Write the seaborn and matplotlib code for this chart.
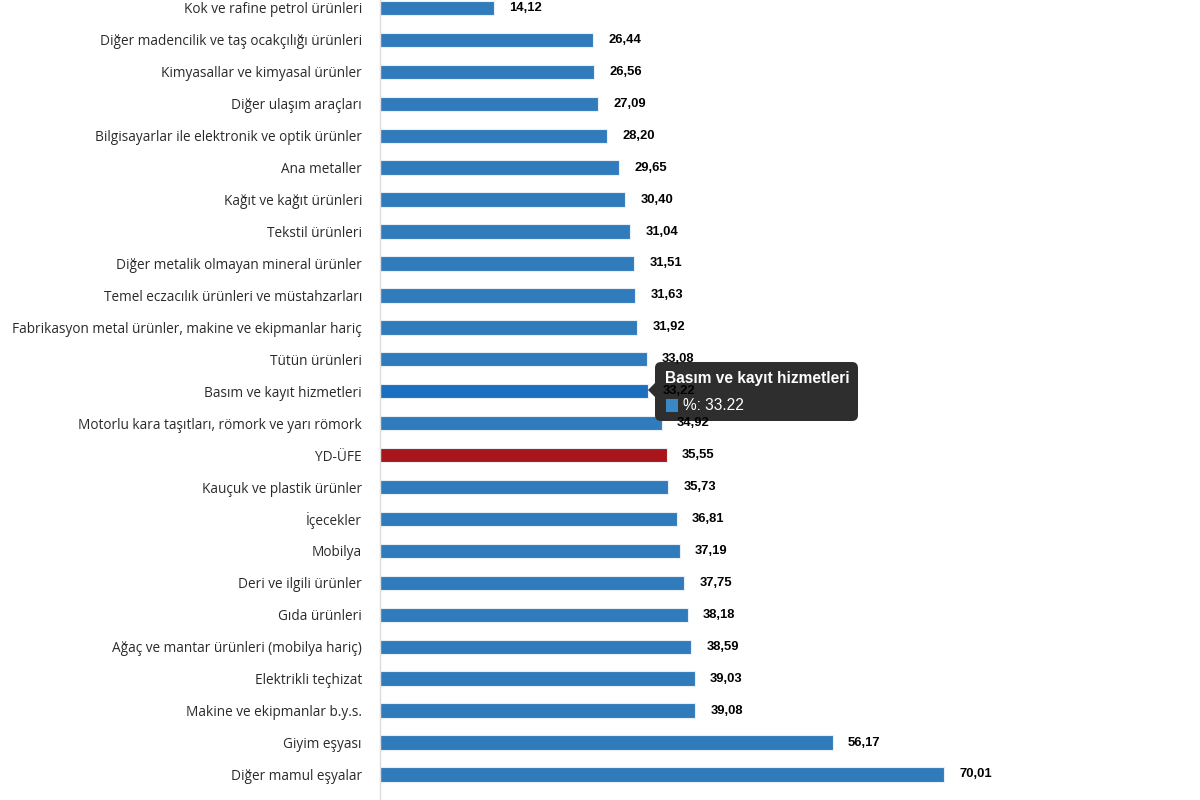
import matplotlib.pyplot as plt
import pandas as pd
import seaborn as sns
from matplotlib.patches import FancyBboxPatch, Polygon, Rectangle
from matplotlib.transforms import IdentityTransform

# data (top to bottom)
categories = [
    'Kok ve rafine petrol ürünleri',
    'Diğer madencilik ve taş ocakçılığı ürünleri',
    'Kimyasallar ve kimyasal ürünler',
    'Diğer ulaşım araçları',
    'Bilgisayarlar ile elektronik ve optik ürünler',
    'Ana metaller',
    'Kağıt ve kağıt ürünleri',
    'Tekstil ürünleri',
    'Diğer metalik olmayan mineral ürünler',
    'Temel eczacılık ürünleri ve müstahzarları',
    'Fabrikasyon metal ürünler, makine ve ekipmanlar hariç',
    'Tütün ürünleri',
    'Basım ve kayıt hizmetleri',
    'Motorlu kara taşıtları, römork ve yarı römork',
    'YD-ÜFE',
    'Kauçuk ve plastik ürünler',
    'İçecekler',
    'Mobilya',
    'Deri ve ilgili ürünler',
    'Gıda ürünleri',
    'Ağaç ve mantar ürünleri (mobilya hariç)',
    'Elektrikli teçhizat',
    'Makine ve ekipmanlar b.y.s.',
    'Giyim eşyası',
    'Diğer mamul eşyalar',
]
values = [14.12, 26.44, 26.56, 27.09, 28.20, 29.65, 30.40, 31.04, 31.51, 31.63,
          31.92, 33.08, 33.22, 34.92, 35.55, 35.73, 36.81, 37.19, 37.75, 38.18,
          38.59, 39.03, 39.08, 56.17, 70.01]

hover_item = 'Basım ve kayıt hizmetleri'
total_item = 'YD-ÜFE'

colors = []
for c in categories:
    if c == total_item:
        colors.append('#a8161c')
    elif c == hover_item:
        colors.append('#1a6fc0')
    else:
        colors.append('#307bbb')

df = pd.DataFrame({'cat': categories, 'val': values})

sns.set_style('white')
plt.rcParams['font.family'] = ['Open Sans', 'DejaVu Sans']

fig = plt.figure(figsize=(12, 8), dpi=100)
ax = fig.add_axes([380 / 1200, 0, (1025 - 380) / 1200, 1])

sns.barplot(data=df, x='val', y='cat', hue='cat', palette=colors, legend=False,
            saturation=1, width=0.45, edgecolor='#e8eef5', linewidth=0.8,
            ax=ax, orient='h')

ax.set_xlim(0, 80)
ax.set_ylim(24.8, -0.25)
ax.set_xlabel('')
ax.set_ylabel('')
ax.set_xticks([])
ax.tick_params(axis='y', length=0, pad=13, labelsize=9.8, labelcolor='#2a2a2a')
for s in ['top', 'right', 'bottom']:
    ax.spines[s].set_visible(False)
ax.spines['left'].set_color('#dddddd')
ax.spines['left'].set_linewidth(1)

# value labels
for i, v in enumerate(values):
    ax.annotate(f'{v:.2f}'.replace('.', ','), xy=(v, i), xytext=(11, 0),
                textcoords='offset points', va='center', ha='left',
                fontsize=9.4, fontweight='bold', family='Liberation Sans',
                color='#000000', zorder=10)

# hover tooltip (pixel coords, origin bottom-left)
H = 800
px = IdentityTransform()
tip = FancyBboxPatch((655, H - 421), 203, 59,
                     boxstyle='round,pad=0,rounding_size=6',
                     fc='#2e2e2e', ec='none', transform=px, zorder=5,
                     clip_on=False)
ax.add_artist(tip)
arrow = Polygon([(648, H - 390), (656, H - 382), (656, H - 398)], closed=True,
                fc='#2e2e2e', ec='none', transform=px, zorder=5, clip_on=False)
ax.add_artist(arrow)
ax.add_artist(Rectangle((666, H - 412), 12, 13, fc='#3a87c8', ec='none',
                        transform=px, zorder=6, clip_on=False))
ax.text(665, H - 378, 'Basım ve kayıt hizmetleri', color='white',
        fontsize=11.2, fontweight='bold', family='Liberation Sans',
        va='center', ha='left', zorder=6, transform=px)
ax.text(683, H - 405, '%: 33.22', color='white',
        fontsize=11.2, family='Liberation Sans', va='center', ha='left',
        zorder=6, transform=px)

fig.savefig('out.png', dpi=100, facecolor='white')
